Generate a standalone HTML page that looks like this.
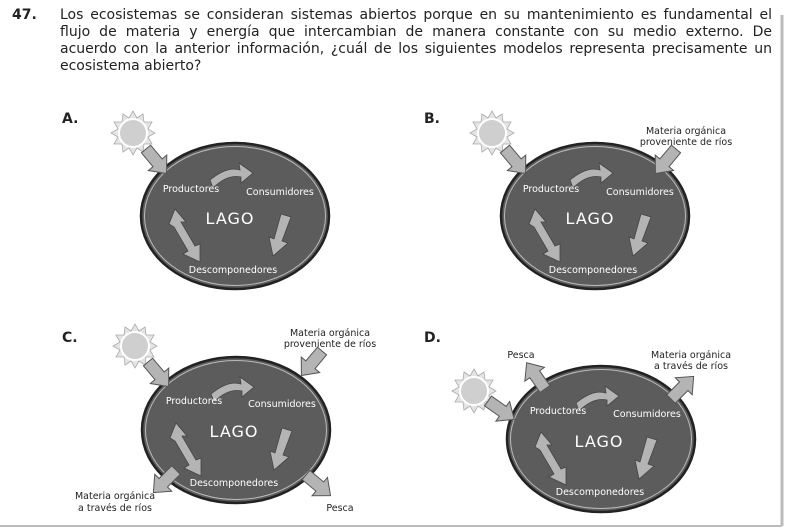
<!DOCTYPE html>
<html><head><meta charset="utf-8"><style>
body{margin:0;background:#fff;width:800px;height:529px;overflow:hidden;position:relative;font-family:"DejaVu Sans",sans-serif}
.q{position:absolute;left:60px;top:7px;width:712px;font-size:14px;line-height:17px;color:#222}
.q div{text-align:justify;text-align-last:justify;white-space:nowrap}
.q div.l{text-align-last:left}
.n{position:absolute;left:12px;top:7px;font-size:14px;font-weight:bold;color:#222;line-height:17px}
</style></head><body>
<div class="n">47.</div>
<div class="q"><div>Los ecosistemas se consideran sistemas abiertos porque en su mantenimiento es fundamental el</div><div>flujo de materia y energía que intercambian de manera constante con su medio externo. De</div><div>acuerdo con la anterior información, ¿cuál de los siguientes modelos representa precisamente un</div><div class="l">ecosistema abierto?</div></div>
<svg width="800" height="529" style="position:absolute;left:0;top:0" font-family="DejaVu Sans,sans-serif">
<defs>
<g id="sun"><polygon points="0,-22 4,-15 10,-19 11,-11 19,-11 15,-4 22,0 15,4 19,11 11,11 10,19 4,15 0,22 -4,15 -10,19 -11,11 -19,11 -15,4 -22,0 -15,-4 -19,-11 -11,-11 -10,-19 -4,-15" fill="#e4e4e4" stroke="#aaa" stroke-width="0.8"/><circle r="14" fill="#cfcfcf" stroke="#fff" stroke-width="2"/></g>
<path id="ar" d="M0,-6 L18,-6 L18,-12 L32,0 L18,12 L18,6 L0,6 Z" fill="#b4b4b4" stroke="#555" stroke-width="1"/>
<g id="lake">
<ellipse rx="94" ry="73" fill="#5c5c5c" stroke="#222" stroke-width="2.5"/>
<ellipse rx="90.5" ry="69.5" fill="none" stroke="#bbb" stroke-width="1"/>
<path d="M-25,-36 Q-8,-50 5,-46 L4,-53 L18,-43 L6,-33 L6,-39 Q-8,-42 -22,-28 Z" fill="#b4b4b4" stroke="#444" stroke-width="0.8"/>
<path d="M46,-2 L56,1 L47,25 L53,27 L38,40 L34,21 L39,23 Z" fill="#b4b4b4" stroke="#444" stroke-width="0.8"/>
<path d="M-66,8 L-60,-7 L-49,6 L-54,6 L-40,30 L-35,28 L-35,46 L-52,38 L-47,35 L-61,11 Z" fill="#b4b4b4" stroke="#444" stroke-width="0.8"/>
</g>
</defs>
<line x1="782" y1="15" x2="782" y2="526" stroke="#bbb" stroke-width="3"/>
<line x1="0" y1="526" x2="782" y2="526" stroke="#bbb" stroke-width="2"/>
<g font-weight="bold" font-size="14" fill="#222"><text x="62" y="123">A.</text><text x="424" y="123">B.</text><text x="62" y="342">C.</text><text x="424" y="342">D.</text></g>
<!-- A -->
<use href="#lake" transform="translate(235,216)"/>
<use href="#sun" transform="translate(133,133)"/>
<use href="#ar" transform="translate(146,149) rotate(50)"/>
<!-- B -->
<use href="#lake" transform="translate(595,216)"/>
<use href="#sun" transform="translate(492,133)"/>
<use href="#ar" transform="translate(505,149) rotate(50)"/>
<use href="#ar" transform="translate(676,149) rotate(130)"/>
<!-- C -->
<use href="#lake" transform="translate(236,430)"/>
<use href="#sun" transform="translate(135,346)"/>
<use href="#ar" transform="translate(148,362) rotate(50)"/>
<use href="#ar" transform="translate(322,351) rotate(130)"/>
<use href="#ar" transform="translate(176,470) rotate(135)"/>
<use href="#ar" transform="translate(306,475) rotate(40)"/>
<!-- D -->
<use href="#lake" transform="translate(601,439)"/>
<use href="#sun" transform="translate(474,391)"/>
<use href="#ar" transform="translate(488,401) rotate(35)"/>
<use href="#ar" transform="translate(545,389) rotate(-125)"/>
<use href="#ar" transform="translate(671,399) rotate(-45)"/>
<g fill="#222" font-size="9.5" text-anchor="middle">
<text x="686" y="134">Materia orgánica</text><text x="686" y="145">proveniente de ríos</text>
<text x="330" y="336">Materia orgánica</text><text x="330" y="347">proveniente de ríos</text>
<text x="115" y="499">Materia orgánica</text><text x="115" y="511">a través de ríos</text>
<text x="340" y="511">Pesca</text>
<text x="521" y="358">Pesca</text>
<text x="691" y="358">Materia orgánica</text><text x="691" y="369">a través de ríos</text>
</g>
<g fill="#fff" font-size="9.5" text-anchor="middle">
<text x="191" y="192">Productores</text><text x="280" y="195">Consumidores</text><text x="233" y="273">Descomponedores</text>
<text x="551" y="192">Productores</text><text x="640" y="195">Consumidores</text><text x="593" y="273">Descomponedores</text>
<text x="194" y="404">Productores</text><text x="282" y="407">Consumidores</text><text x="234" y="486">Descomponedores</text>
<text x="558" y="414">Productores</text><text x="647" y="417">Consumidores</text><text x="600" y="495">Descomponedores</text>
</g>
<g fill="#fff" font-size="16" text-anchor="middle" letter-spacing="1">
<text x="230" y="224">LAGO</text><text x="590" y="224">LAGO</text><text x="234" y="437">LAGO</text><text x="599" y="447">LAGO</text>
</g>
</svg>
</body></html>
